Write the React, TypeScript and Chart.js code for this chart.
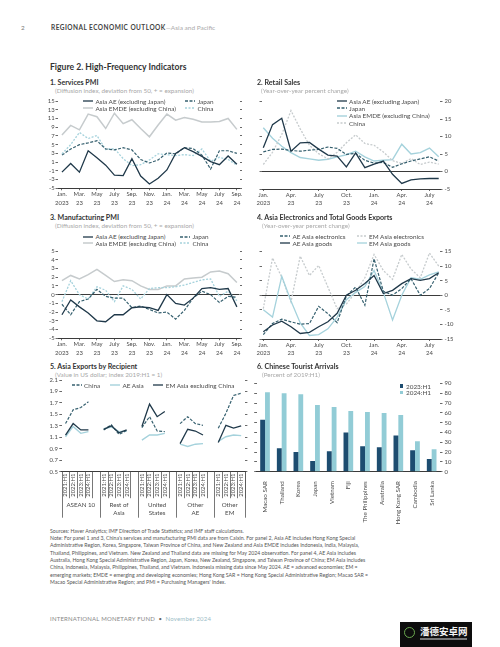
import React, { useEffect, useRef } from "react";
import { Chart, registerables } from "chart.js";

Chart.register(...registerables);

const FONT = "Lato, 'Open Sans', 'DejaVu Sans', sans-serif";

// ---------------- Panel 1: Services PMI (Jan 2023 - Sep 2024) ----------------
const pmiTickLabels = [["Jan.", "2023"], ["Mar.", "23"], ["May", "23"], ["July", "23"], ["Sep.", "23"], ["Nov.", "23"], ["Jan.", "24"], ["Mar.", "24"], ["May", "24"], ["July", "24"], ["Sep.", "24"]];
const servAsiaAE = [-1.3, 0.7, -1.3, 3.6, 2.0, 0.3, -2.0, -2.1, 1.8, -2.2, -4.0, -2.7, -0.8, 3.0, 4.3, 3.4, 2.3, 1.1, 0.4, 2.4, 0.5];
const servJapan = [2.6, 4.0, 5.0, 5.4, 5.9, 4.0, 3.8, 4.3, 3.8, 1.6, 0.8, 1.5, 3.1, 2.9, 4.3, 4.1, 2.6, -0.6, 3.6, 3.6, 3.0];
const servEMDE = [7.2, 9.4, 8.4, 12.0, 11.4, 8.7, 12.2, 9.8, 10.7, 8.7, 6.8, 9.5, 12.0, 10.6, 11.2, 10.8, 10.2, 10.2, 10.3, 11.0, 8.5];
const servChina = [2.9, 5.0, 7.8, 6.4, 7.1, 3.9, 4.1, 1.8, 0.2, 0.4, 1.5, 2.9, 2.7, 2.5, 2.7, 2.5, 4.0, 1.2, 2.1, 1.6, 0.3];

// ---------------- Panel 2: Retail Sales (Jan 2023 - Aug 2024) ----------------
const retailTickLabels = [["Jan.", "2023"], ["Apr.", "23"], ["July", "23"], ["Oct.", "23"], ["Jan.", "24"], ["Apr.", "24"], ["July", "24"]];
const retAsiaAE = [6.8, 13.4, 15.2, 5.8, 8.2, 8.3, 6.4, 4.7, 4.4, 1.3, 5.3, 1.1, 2.1, 3.0, -0.8, -3.4, -2.4, -2.1, -2.0, -2.0];
const retJapan = [5.6, 6.3, 6.4, 6.0, 5.8, 6.1, 6.3, 7.0, 6.6, 4.9, 5.2, 3.2, 2.4, 2.6, 1.2, 2.2, 3.0, 3.6, 4.2, 3.0];
const retEMDE = [12.5, 9.5, 7.2, 5.4, 4.0, 3.6, 3.2, 3.5, 4.2, 4.8, 5.8, 4.2, 3.0, 3.2, 3.4, 7.8, 5.0, 5.4, 6.7, 4.2];
const retChina = [2.0, 5.5, 10.6, 17.4, 12.2, 7.5, 5.1, 3.6, 5.5, 8.2, 10.5, 8.0, 7.5, 5.6, 3.1, 2.3, 3.7, 2.0, 2.7, 2.1];

// ---------------- Panel 3: Manufacturing PMI (Jan 2023 - Sep 2024) ----------------
const mfgAsiaAE = [-2.3, -0.6, -1.4, -2.1, -3.0, -3.1, -2.3, -2.3, -1.5, -1.4, -1.5, -1.8, 0.0, -1.0, -1.2, -0.4, 0.7, 0.8, 0.6, 0.7, -1.4];
const mfgJapan = [-1.1, -2.3, -0.8, -0.5, 0.6, -0.2, -0.4, -0.4, -1.5, -1.3, -1.7, -2.1, -2.0, -2.8, -1.8, -0.4, 0.4, 0.0, -0.9, -0.2, -0.3];
const mfgEMDE = [1.6, 2.2, 1.8, 2.3, 2.9, 2.2, 1.5, 1.7, 1.6, 1.0, 0.6, 0.6, 1.0, 1.0, 1.8, 1.9, 2.0, 2.6, 2.7, 2.4, 1.4];
const mfgChina = [-0.8, 1.6, 0.0, -0.5, 0.9, 0.5, -0.8, 1.0, 0.6, -0.5, 0.7, 0.8, 0.8, 0.9, 1.1, 1.4, 1.7, 1.8, -0.2, 0.4, -0.7];

// ---------------- Panel 4: Exports (Jan 2023 - Aug 2024) ----------------
const aeElectronics = [-13.5, -9.7, -8.2, -9.1, -9.9, -9.7, -3.8, -6.3, -9.4, -0.2, 2.8, -3.4, 12.5, 1.4, 0.0, 2.3, 5.7, 0.0, 2.3, 7.7];
const aeGoods = [-12.5, -10.2, -8.9, -10.8, -13.1, -12.7, -10.8, -9.1, -6.2, 0.0, 1.7, 4.0, 6.8, 0.6, 1.7, 4.0, 5.7, 5.1, 5.7, 7.7];
const emElectronics = [-4.6, 12.8, 6.2, -2.3, 13.4, 6.8, 10.2, 2.8, -4.6, -3.0, 1.0, 6.0, 14.0, 8.5, 5.5, 14.0, 9.0, 6.0, 14.5, 10.0];
const emGoods = [-5.0, -7.5, 6.5, -2.0, -9.5, -13.8, -13.5, -11.5, -7.5, -1.5, 1.0, 3.0, 8.5, 1.0, -8.5, 0.0, 6.0, 5.5, 7.0, 8.0];

// ---------------- Panel 5: Exports by recipient ----------------
const recipientGroups = [["ASEAN 10"], ["Rest of", "Asia"], ["United", "States"], ["Other", "AE"], ["Other", "EM"]];
const recipientPeriods = ["2021:H1", "2022:H1", "2023:H1", "2024:H1"];
const recChina = [1.34, 1.58, 1.62, 1.72, 1.23, 1.32, 1.15, 1.22, 1.27, 1.46, 1.21, 1.20, 1.34, 1.46, 1.34, 1.31, 1.26, 1.52, 1.83, 1.87];
const recAEAsia = [1.11, 1.29, 1.17, 1.20, 1.25, 1.28, 1.20, 1.21, 1.05, 1.14, 1.14, 1.17, 0.98, 0.94, 0.98, 0.99, 1.03, 1.11, 1.14, 1.13];
const recEMAsia = [1.14, 1.34, 1.23, 1.23, 1.24, 1.30, 1.18, 1.23, 1.29, 1.68, 1.46, 1.55, 0.99, 1.24, 1.21, 1.14, 1.01, 1.31, 1.26, 1.30];

// ---------------- Panel 6: Chinese tourist arrivals ----------------
const touristCountries = ["Macao SAR", "Thailand", "Korea", "Japan", "Vietnam", "Fiji", "The Philippines", "Australia", "Hong Kong SAR", "Cambodia", "Sri Lanka"];
const tourist2023H1 = [53, 24, 20, 11, 21, 40, 26, 25, 37, 22, 13];
const tourist2024H1 = [81, 80, 79, 68, 66, 62, 61, 60, 58, 31, 23];

// ---------------- styles ----------------
const C_DARK = "#20394a";
const C_DASH = "#36606f";
const C_GRAY = "#c6cbcd";
const C_TEAL = "#a5d2dc";
const C_BAR1 = "#1d4d70";
const C_BAR2 = "#92ccd6";
const AXIS = "#3b3b3b";
const TICKC = "#6a6a6a";
const LBL = "#4a4a4a";
const TICK_FS = 5.9;
const LEG_FS = 6.4;

type LineSpec = { data: (number | null)[]; color: string; width: number; dash?: number[] };

const base = {
  animation: false,
  responsive: false,
  devicePixelRatio: 1,
  events: [],
  plugins: { legend: { display: false }, tooltip: { enabled: false } },
};

function fmt(v: number, dec: number) {
  return Number(v).toFixed(dec);
}

function tsConfig(o: any) {
  const tickFont = { family: FONT, size: TICK_FS, lineHeight: 1.41 };
  const other = o.labelSide === "left" ? "right" : "left";
  const widthFor = (side: string) => (side === "left" ? o.leftW : o.rightW);
  return {
    type: "line",
    data: {
      datasets: o.series.map((s: LineSpec) => ({
        data: s.data.map((v, i) => ({ x: i, y: v })),
        borderColor: s.color,
        borderWidth: s.width,
        borderDash: s.dash || [],
        pointRadius: 0,
        tension: 0,
        fill: false,
      })),
    },
    options: {
      ...base,
      layout: { padding: { top: o.topPad, left: 0, right: 0, bottom: 0 } },
      scales: {
        x: {
          type: "linear",
          min: o.xMin,
          max: o.xMax,
          afterBuildTicks: (s: any) => {
            s.ticks = o.tickLabels.map((_: any, k: number) => ({ value: k * o.tickStep }));
          },
          ticks: {
            autoSkip: false,
            maxRotation: 0,
            minRotation: 0,
            padding: 0,
            font: tickFont,
            color: LBL,
            callback: (_v: any, i: number) => o.tickLabels[i],
          },
          grid: { drawOnChartArea: false, tickLength: 2, tickColor: TICKC },
          border: { display: true, color: AXIS, width: 1 },
          afterFit: (s: any) => {
            s.height = o.bottomH;
          },
        },
        y: {
          type: "linear",
          position: o.labelSide,
          min: o.yMin,
          max: o.yMax,
          ticks: {
            autoSkip: false,
            stepSize: o.yStep,
            font: { family: FONT, size: TICK_FS },
            color: LBL,
            padding: o.labelSide === "left" ? 0.8 : 2,
            callback: (v: any) => fmt(v, 0),
          },
          grid: {
            color: (c: any) => (c.tick && Math.abs(c.tick.value) < 1e-9 ? AXIS : "rgba(0,0,0,0)"),
            tickColor: TICKC,
            tickLength: 2.5,
            lineWidth: 1,
          },
          border: { display: false },
          afterFit: (s: any) => {
            s.width = widthFor(o.labelSide);
          },
        },
        y2: {
          type: "linear",
          position: other,
          min: o.yMin,
          max: o.yMax,
          ticks: { autoSkip: false, stepSize: o.yStep, display: false },
          grid: { drawOnChartArea: false, tickColor: TICKC, tickLength: 2.5 },
          border: { display: false },
          afterFit: (s: any) => {
            s.width = widthFor(other);
          },
        },
      },
    },
  };
}

function groupSeries(vals: number[]) {
  const pts: { x: number; y: number | null }[] = [];
  recipientGroups.forEach((_, g) => {
    recipientPeriods.forEach((_, k) => pts.push({ x: g * 5 + k + 0.5, y: vals[g * 4 + k] }));
    pts.push({ x: g * 5 + 4.5, y: null });
  });
  return pts;
}

const recipientAxisPlugin = {
  id: "recipientAxis",
  afterDraw(chart: any) {
    const { ctx, chartArea } = chart;
    const xs = chart.scales.x;
    const b = chartArea.bottom;
    const vline = (px: number, len: number) => {
      ctx.beginPath();
      ctx.moveTo(Math.round(px) + 0.5, b);
      ctx.lineTo(Math.round(px) + 0.5, b + len);
      ctx.stroke();
    };
    ctx.save();
    ctx.strokeStyle = "#555";
    ctx.lineWidth = 0.8;
    ctx.fillStyle = LBL;
    const nG = recipientGroups.length;
    recipientGroups.forEach((lines, g) => {
      const start = g * 5;
      ctx.font = `${TICK_FS}px ${FONT}`;
      recipientPeriods.forEach((lab, k) => {
        const cx = xs.getPixelForValue(start + k + 0.5);
        ctx.save();
        ctx.translate(cx, b + 2);
        ctx.rotate(-Math.PI / 2);
        ctx.textAlign = "right";
        ctx.textBaseline = "middle";
        ctx.fillText(lab, 0, 0);
        ctx.restore();
      });
      for (let k = 1; k <= 4; k++) vline(xs.getPixelForValue(start + k), 26.5);
      const left = xs.getPixelForValue(start);
      const right = xs.getPixelForValue(g === nG - 1 ? nG * 5 - 1 : start + 5);
      vline(left, 46);
      ctx.font = `6.2px ${FONT}`;
      ctx.textAlign = "center";
      ctx.textBaseline = "middle";
      lines.forEach((t, li) => ctx.fillText(t, (left + right) / 2, b + 33.5 + li * 8.3));
    });
    vline(xs.getPixelForValue(nG * 5 - 1), 46);
    ctx.restore();
  },
};

function recipientConfig() {
  const mk = (vals: number[], color: string, width: number, dash: number[]) => ({
    data: groupSeries(vals),
    borderColor: color,
    borderWidth: width,
    borderDash: dash,
    pointRadius: 0,
    tension: 0,
    spanGaps: false,
    fill: false,
  });
  return {
    type: "line",
    data: { datasets: [mk(recEMAsia, C_DARK, 1.3, []), mk(recChina, C_DASH, 1.2, [3, 1.5]), mk(recAEAsia, C_TEAL, 1.4, [])] },
    options: {
      ...base,
      layout: { padding: { top: 5, left: 0, right: 0, bottom: 0 } },
      scales: {
        x: {
          type: "linear",
          min: 0,
          max: recipientGroups.length * 5 - 1,
          ticks: { display: false },
          grid: { display: false },
          border: { display: true, color: AXIS, width: 1 },
          afterFit: (s: any) => {
            s.height = 53.3;
          },
        },
        y: {
          position: "left",
          min: 0.5,
          max: 2.1,
          ticks: { autoSkip: false, stepSize: 0.2, font: { family: FONT, size: TICK_FS }, color: LBL, padding: 1.5, callback: (v: any) => fmt(v, 1) },
          grid: { drawOnChartArea: false, tickColor: TICKC, tickLength: 2.4 },
          border: { display: false },
          afterFit: (s: any) => {
            s.width = 36.7;
          },
        },
        y2: {
          position: "right",
          min: 0.5,
          max: 2.1,
          ticks: { autoSkip: false, stepSize: 0.2, display: false },
          grid: { drawOnChartArea: false, tickColor: TICKC, tickLength: 2.4 },
          border: { display: false },
          afterFit: (s: any) => {
            s.width = 10;
          },
        },
      },
    },
    plugins: [recipientAxisPlugin],
  };
}

function touristConfig() {
  return {
    type: "bar",
    data: {
      labels: touristCountries,
      datasets: [
        { label: "2023:H1", data: tourist2023H1, backgroundColor: C_BAR1, categoryPercentage: 0.58, barPercentage: 1 },
        { label: "2024:H1", data: tourist2024H1, backgroundColor: C_BAR2, categoryPercentage: 0.58, barPercentage: 1 },
      ],
    },
    options: {
      ...base,
      layout: { padding: { top: 5.3, left: 0, right: 0, bottom: 0 } },
      scales: {
        x: {
          ticks: { autoSkip: false, maxRotation: 90, minRotation: 90, padding: 1.5, font: { family: FONT, size: 6.2 }, color: LBL },
          grid: { display: false },
          border: { display: true, color: AXIS, width: 1 },
          afterFit: (s: any) => {
            s.height = 56.3;
          },
        },
        y: {
          position: "right",
          min: 0,
          max: 90,
          ticks: { autoSkip: false, stepSize: 10, font: { family: FONT, size: TICK_FS }, color: LBL, padding: 2 },
          grid: { drawOnChartArea: false, tickColor: TICKC, tickLength: 2.5 },
          border: { display: false },
          afterFit: (s: any) => {
            s.width = 20;
          },
        },
        y2: {
          position: "left",
          min: 0,
          max: 90,
          ticks: { autoSkip: false, stepSize: 10, display: false },
          grid: { drawOnChartArea: false, tickColor: TICKC, tickLength: 2.5 },
          border: { display: false },
          afterFit: (s: any) => {
            s.width = 16.7;
          },
        },
      },
    },
  };
}

function ChartCanvas({ x, y, w, h, build }: { x: number; y: number; w: number; h: number; build: () => any }) {
  const ref = useRef<HTMLCanvasElement>(null);
  useEffect(() => {
    const chart = new Chart(ref.current as HTMLCanvasElement, build());
    return () => chart.destroy();
  }, []);
  return <canvas ref={ref} width={w} height={h} style={{ position: "absolute", left: x, top: y, width: w, height: h }} />;
}

function T({ x, y, s = 6, bold = false, c = "#333", children, ls = 0 }: any) {
  return (
    <div
      style={{
        position: "absolute",
        left: x,
        top: y - s * 0.6,
        fontSize: s,
        lineHeight: `${s * 1.2}px`,
        fontWeight: bold ? 700 : 400,
        color: c,
        fontFamily: FONT,
        whiteSpace: "pre",
        letterSpacing: ls,
      }}
    >
      {children}
    </div>
  );
}

function Leg({ x, y, color, dash, width = 1.3, label, square = false }: any) {
  return (
    <div style={{ position: "absolute", left: x, top: y - 4, height: 8, display: "flex", alignItems: "center", fontFamily: FONT, fontSize: LEG_FS, color: LBL, whiteSpace: "pre" }}>
      {square ? (
        <div style={{ width: 3.4, height: 3.4, background: color }} />
      ) : (
        <svg width={10} height={4} style={{ display: "block" }}>
          <line x1={0} y1={2} x2={10} y2={2} stroke={color} strokeWidth={width} strokeDasharray={dash} />
        </svg>
      )}
      <span style={{ marginLeft: square ? 2.6 : 2.4 }}>{label}</span>
    </div>
  );
}

const notesLines = [
  "Sources: Haver Analytics; IMF Direction of Trade Statistics; and IMF staff calculations.",
  "Note: For panel 1 and 3, China's services and manufacturing PMI data are from Caixin. For panel 2, Asia AE includes Hong Kong Special",
  "Administrative Region, Korea, Singapore, Taiwan Province of China, and New Zealand and Asia EMDE includes Indonesia, India, Malaysia,",
  "Thailand, Philippines, and Vietnam. New Zealand and Thailand data are missing for May 2024 observation. For panel 4, AE Asia includes",
  "Australia, Hong Kong Special Administrative Region, Japan, Korea, New Zealand, Singapore, and Taiwan Province of China; EM Asia includes",
  "China, Indonesia, Malaysia, Philippines, Thailand, and Vietnam. Indonesia missing data since May 2024. AE = advanced economies; EM =",
  "emerging markets; EMDE = emerging and developing economies; Hong Kong SAR = Hong Kong Special Administrative Region; Macao SAR =",
  "Macao Special Administrative Region; and PMI = Purchasing Managers' Index.",
];

export default function App() {
  const SUB = "#a8a8a8";
  const TS = 7.1;
  const SS = 6.3;
  const p1 = () =>
    tsConfig({
      series: [
        { data: servAsiaAE, color: C_DARK, width: 1.3 },
        { data: servJapan, color: C_DASH, width: 1.2, dash: [3, 1.5] },
        { data: servChina, color: C_TEAL, width: 1.3, dash: [2, 1.5] },
        { data: servEMDE, color: C_GRAY, width: 1.5 },
      ],
      xMin: -0.45, xMax: 20.3, tickStep: 2, tickLabels: pmiTickLabels,
      yMin: -5, yMax: 15, yStep: 2, labelSide: "left", leftW: 28, rightW: 10.5, topPad: 5, bottomH: 22.7,
    });
  const p2 = () =>
    tsConfig({
      series: [
        { data: retAsiaAE, color: C_DARK, width: 1.3 },
        { data: retJapan, color: C_DASH, width: 1.2, dash: [3, 1.5] },
        { data: retChina, color: C_GRAY, width: 1.3, dash: [2, 1.5] },
        { data: retEMDE, color: C_TEAL, width: 1.4 },
      ],
      xMin: -0.14, xMax: 19.14, tickStep: 3, tickLabels: retailTickLabels,
      yMin: -5, yMax: 20, yStep: 5, labelSide: "right", leftW: 22, rightW: 20, topPad: 5, bottomH: 22,
    });
  const p3 = () =>
    tsConfig({
      series: [
        { data: mfgAsiaAE, color: C_DARK, width: 1.3 },
        { data: mfgJapan, color: C_DASH, width: 1.2, dash: [3, 1.5] },
        { data: mfgChina, color: C_TEAL, width: 1.3, dash: [2, 1.5] },
        { data: mfgEMDE, color: C_GRAY, width: 1.5 },
      ],
      xMin: -0.45, xMax: 20.3, tickStep: 2, tickLabels: pmiTickLabels,
      yMin: -5, yMax: 5, yStep: 1, labelSide: "left", leftW: 28, rightW: 10.5, topPad: 5, bottomH: 22.7,
    });
  const p4 = () =>
    tsConfig({
      series: [
        { data: aeGoods, color: C_DARK, width: 1.3 },
        { data: aeElectronics, color: C_DASH, width: 1.2, dash: [3, 1.5] },
        { data: emGoods, color: C_TEAL, width: 1.3 },
        { data: emElectronics, color: C_GRAY, width: 1.3, dash: [2, 1.5] },
      ],
      xMin: -0.14, xMax: 19.14, tickStep: 3, tickLabels: retailTickLabels,
      yMin: -15, yMax: 15, yStep: 5, labelSide: "right", leftW: 22, rightW: 20, topPad: 5, bottomH: 22,
    });

  return (
    <div style={{ position: "fixed", left: 0, top: 0, width: 500, height: 647, background: "#fff", overflow: "hidden", fontFamily: FONT }}>
      {/* header */}
      <T x={21} y={28} s={6.3} c="#777">2</T>
      <div style={{ position: "absolute", left: 51, top: 24.1, fontSize: 6.5, lineHeight: "7.8px", fontFamily: FONT, whiteSpace: "pre" }}>
        <span style={{ fontWeight: 700, color: "#444", letterSpacing: 0.45 }}>REGIONAL ECONOMIC OUTLOOK</span>
        <span style={{ color: "#aaa" }}>—Asia and Pacific</span>
      </div>
      <T x={50} y={67.5} s={8.6} bold c="#333">Figure 2. High-Frequency Indicators</T>

      {/* panel 1 */}
      <T x={50} y={83.5} s={TS} bold>1. Services PMI</T>
      <T x={55} y={90.5} s={SS} c={SUB}>(Diffusion index, deviation from 50, + = expansion)</T>
      <ChartCanvas x={30} y={96} w={220} h={115} build={p1} />
      <Leg x={83} y={101} color={C_DARK} label="Asia AE (excluding Japan)" />
      <Leg x={185} y={101} color={C_DASH} dash="3 1.5" label="Japan" />
      <Leg x={83} y={108.3} color={C_GRAY} width={1.5} label="Asia EMDE (excluding China)" />
      <Leg x={185} y={108.3} color={C_TEAL} dash="2 1.5" label="China" />

      {/* panel 2 */}
      <T x={257} y={83.5} s={TS} bold>2. Retail Sales</T>
      <T x={261} y={90.5} s={SS} c={SUB}>(Year-over-year percent change)</T>
      <ChartCanvas x={240} y={96} w={220} h={115} build={p2} />
      <Leg x={336.7} y={101} color={C_DARK} label="Asia AE (excluding Japan)" />
      <Leg x={336.7} y={108.3} color={C_DASH} dash="3 1.5" label="Japan" />
      <Leg x={336.7} y={115.7} color={C_TEAL} width={1.4} label="Asia EMDE (excluding China)" />
      <Leg x={336.7} y={123.1} color={C_GRAY} dash="2 1.5" label="China" />

      {/* panel 3 */}
      <T x={50} y={218.5} s={TS} bold>3. Manufacturing PMI</T>
      <T x={55} y={225.3} s={SS} c={SUB}>(Diffusion index, deviation from 50, + = expansion)</T>
      <ChartCanvas x={30} y={246} w={220} h={115} build={p3} />
      <Leg x={83} y={236.7} color={C_DARK} label="Asia AE (excluding Japan)" />
      <Leg x={180} y={236.7} color={C_DASH} dash="3 1.5" label="Japan" />
      <Leg x={83} y={243.3} color={C_GRAY} width={1.5} label="Asia EMDE (excluding China)" />
      <Leg x={180} y={243.3} color={C_TEAL} dash="2 1.5" label="China" />

      {/* panel 4 */}
      <T x={257} y={218.5} s={TS} bold>4. Asia Electronics and Total Goods Exports</T>
      <T x={262} y={225.7} s={SS} c={SUB}>(Year-over-year percent change)</T>
      <ChartCanvas x={240} y={246} w={220} h={115} build={p4} />
      <Leg x={280} y={236} color={C_DASH} dash="3 1.5" label="AE Asia electronics" />
      <Leg x={356.7} y={236} color={C_GRAY} dash="2 1.5" label="EM Asia electronics" />
      <Leg x={280} y={243.3} color={C_DARK} label="AE Asia goods" />
      <Leg x={356.7} y={243.3} color={C_TEAL} label="EM Asia goods" />

      {/* panel 5 */}
      <T x={50} y={367.7} s={TS} bold>5. Asia Exports by Recipient</T>
      <T x={55} y={374.3} s={SS} c={SUB}>(Value in US dollar; index 2019:H1 = 1)</T>
      <ChartCanvas x={25} y={375} w={230} h={150} build={recipientConfig} />
      <Leg x={71.7} y={385} color={C_DASH} dash="3 1.5" label="China" />
      <Leg x={110} y={385} color={C_TEAL} width={1.4} label="AE Asia" />
      <Leg x={153.3} y={385} color={C_DARK} label="EM Asia excluding China" />

      {/* panel 6 */}
      <T x={257} y={367.7} s={TS} bold>6. Chinese Tourist Arrivals</T>
      <T x={262} y={374.5} s={SS} c={SUB}>(Percent of 2019:H1)</T>
      <ChartCanvas x={240} y={378} w={220} h={150} build={touristConfig} />
      <Leg x={400} y={386} color={C_BAR1} square label="2023:H1" />
      <Leg x={400} y={392.7} color={C_BAR2} square label="2024:H1" />

      {/* notes */}
      {notesLines.map((l, i) => (
        <T key={i} x={50} y={531 + i * 7.3} s={5.2} c="#555">{l}</T>
      ))}

      {/* footer */}
      <div style={{ position: "absolute", left: 50, top: 615.4, fontSize: 6.0, lineHeight: "7.2px", fontFamily: FONT, whiteSpace: "pre", letterSpacing: 0.2 }}>
        <span style={{ color: "#888" }}>INTERNATIONAL MONETARY FUND</span>
        <span style={{ color: "#666" }}>  •  </span>
        <span style={{ color: "#9bbcc6" }}>November 2024</span>
      </div>

      {/* watermark */}
      <div style={{ position: "absolute", left: 400, top: 622, width: 72, height: 25, background: "#0d0d0d" }}>
        <div style={{ position: "absolute", left: 4, top: 5, width: 11, height: 11, borderRadius: 6, border: "1.5px solid #6aa84f", boxSizing: "border-box" }} />
        <div style={{ position: "absolute", left: 20, top: 3, fontFamily: "'Noto Sans CJK SC'", fontWeight: 700, fontSize: 9.5, lineHeight: "12px", color: "#f2f2f2", whiteSpace: "pre" }}>潘德安卓网</div>
        <div style={{ position: "absolute", left: 20, top: 16, width: 47, height: 1.5, background: "#777" }} />
      </div>
    </div>
  );
}
